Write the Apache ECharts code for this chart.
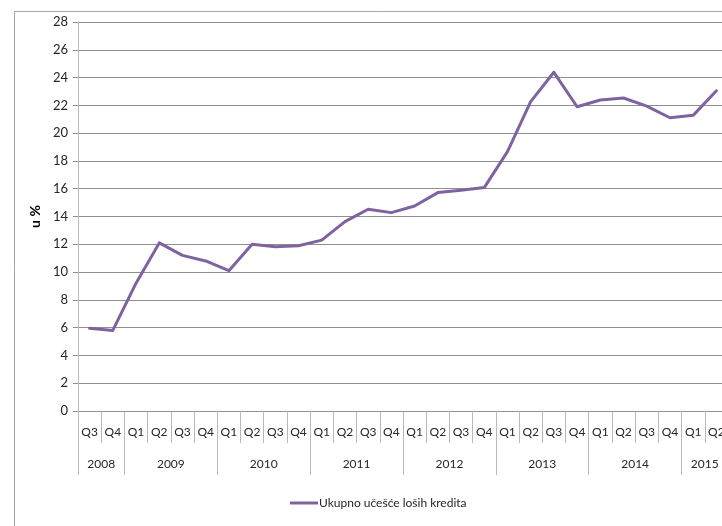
<!DOCTYPE html>
<html>
<head>
<meta charset="utf-8">
<script src="https://cdn.jsdelivr.net/npm/echarts@6/dist/echarts.min.js"></script>
<style>
  html, body { margin: 0; padding: 0; background: #fff; overflow: hidden; }
  #chart { width: 740px; height: 526px; }
</style>
</head>
<body>
<div id="chart"></div>
<script>
// Quarterly share of non-performing loans, Q3 2008 – Q2 2015
const quarters = ['Q3','Q4',
  'Q1','Q2','Q3','Q4',
  'Q1','Q2','Q3','Q4',
  'Q1','Q2','Q3','Q4',
  'Q1','Q2','Q3','Q4',
  'Q1','Q2','Q3','Q4',
  'Q1','Q2','Q3','Q4',
  'Q1','Q2'];
const years = ['2008','2009','2010','2011','2012','2013','2014','2015'];
const quartersPerYear = [2, 4, 4, 4, 4, 4, 4, 2];
const seriesName = 'Ukupno učešće loših kredita';
const shareNPL = [5.95, 5.8,
  9.2, 12.1, 11.2, 10.8,
  10.1, 12.0, 11.83, 11.9,
  12.3, 13.63, 14.52, 14.28,
  14.76, 15.72, 15.89, 16.08,
  18.67, 22.27, 24.38, 21.9,
  22.39, 22.53, 21.95, 21.11,
  21.28, 23.05];
const yTicks = { min: 0, max: 28, step: 2 };

// Year row: a boundary-aligned axis with one slot per quarter edge.
// Year names sit in the middle of each group, separators at group edges.
const yearSlots = new Array(quarters.length + 1).fill('');
const yearEdges = new Set([0, quarters.length]);
let pos = 0;
years.forEach((y, i) => {
  const n = quartersPerYear[i];
  yearSlots[pos + n / 2] = y;
  yearEdges.add(pos);
  pos += n;
});

const FONT = 'Lato, "Liberation Sans", sans-serif';
const TXT = '#262626';
const GRID_LINE = '#8f8f8f';
const SEP_LINE = '#b8b8b8';

const chart = echarts.init(document.getElementById('chart'));
chart.setOption({
  animation: false,
  backgroundColor: '#fff',
  textStyle: { fontFamily: FONT },
  // the plot runs past the right edge of the visible frame
  grid: { left: 78, top: 22, width: 650, height: 389, containLabel: false },
  graphic: [
    { type: 'line', silent: true, shape: { x1: 14.5, y1: 11.5, x2: 740, y2: 11.5 },
      style: { stroke: '#a6a6a6', lineWidth: 1 } },
    { type: 'line', silent: true, shape: { x1: 14.5, y1: 11.5, x2: 14.5, y2: 526 },
      style: { stroke: '#a6a6a6', lineWidth: 1 } }
  ],
  xAxis: [
    {
      type: 'category',
      data: quarters,
      boundaryGap: true,
      position: 'bottom',
      axisLine: { show: true, lineStyle: { color: GRID_LINE, width: 1 } },
      axisTick: { show: true, interval: 0, length: 32, lineStyle: { color: SEP_LINE } },
      axisLabel: { interval: 0, margin: 15, color: TXT, fontSize: 12, fontFamily: FONT },
      splitLine: { show: false }
    },
    {
      type: 'category',
      data: yearSlots,
      boundaryGap: false,
      position: 'bottom',
      axisLine: { show: false },
      axisTick: { show: true, length: 64, lineStyle: { color: SEP_LINE },
        interval: (idx) => yearEdges.has(idx) },
      axisLabel: { interval: 0, margin: 47, color: TXT, fontSize: 12, fontFamily: FONT },
      splitLine: { show: false }
    }
  ],
  yAxis: {
    type: 'value',
    min: yTicks.min,
    max: yTicks.max,
    interval: yTicks.step,
    name: 'u %',
    nameLocation: 'middle',
    nameRotate: 90,
    nameGap: 25,
    nameTextStyle: { fontWeight: 'bold', fontSize: 14, color: '#000', fontFamily: FONT },
    axisLine: { show: true, lineStyle: { color: SEP_LINE, width: 1 } },
    axisTick: { show: true, length: 5, lineStyle: { color: GRID_LINE } },
    axisLabel: { margin: 10, color: TXT, fontSize: 13, fontFamily: FONT },
    splitLine: { show: true, lineStyle: { color: GRID_LINE, width: 1 } }
  },
  legend: {
    show: true,
    left: 290,
    top: 497,
    padding: 0,
    icon: 'rect',
    itemWidth: 28,
    itemHeight: 3,
    itemGap: 10,
    textStyle: { fontSize: 12, color: TXT, fontFamily: FONT, padding: [0, 0, 0, -4] },
    data: [seriesName]
  },
  series: [{
    name: seriesName,
    type: 'line',
    xAxisIndex: 0,
    data: shareNPL,
    showSymbol: false,
    symbol: 'none',
    smooth: false,
    lineStyle: { color: '#7f63a1', width: 3, join: 'round', cap: 'round' },
    itemStyle: { color: '#7f63a1' }
  }]
});
</script>
</body>
</html>
